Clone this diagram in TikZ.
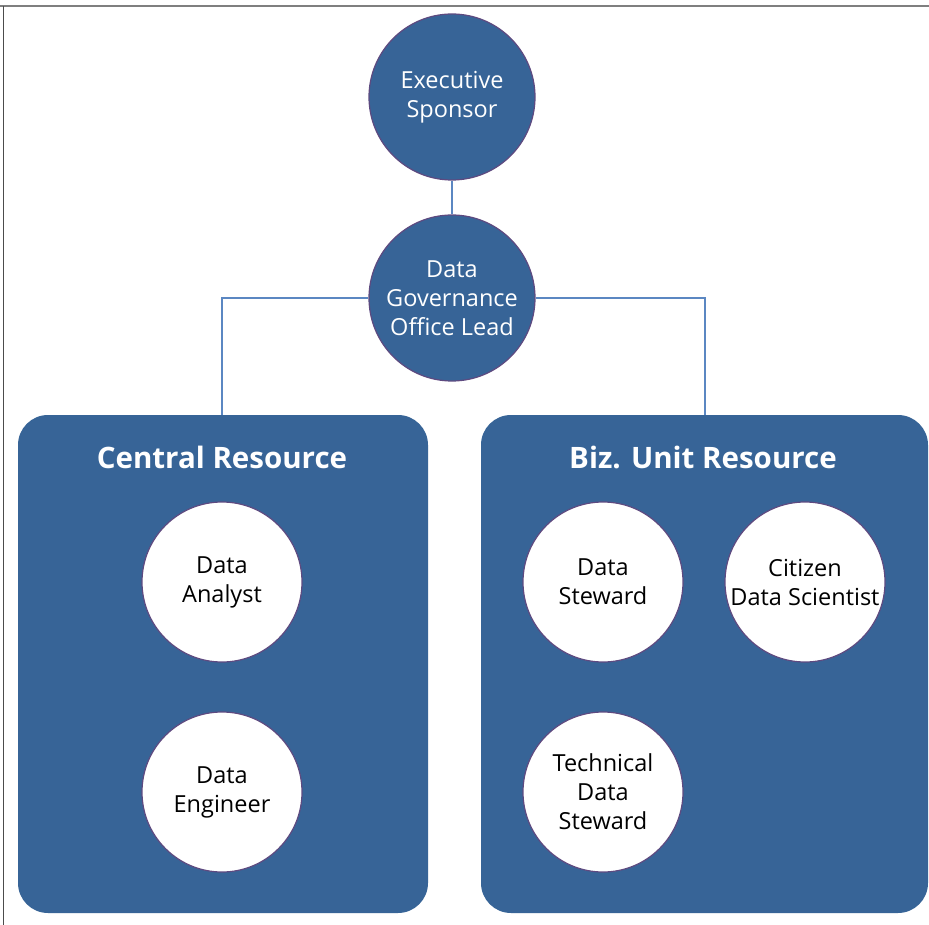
\documentclass[tikz,border=0pt]{standalone}
\usepackage{fontspec}
\setmainfont{Open Sans}
\definecolor{boxblue}{HTML}{376497}
\definecolor{rimpurple}{HTML}{5E4A80}
\definecolor{linkblue}{HTML}{5B87C2}
\definecolor{framegray}{HTML}{7F7F7F}
\begin{document}
\begin{tikzpicture}[x=1pt,y=-1pt,
  role/.style={circle,draw=rimpurple,line width=1.2pt,minimum size=166pt,inner sep=0pt,
    align=center,font=\fontsize{23.5}{29}\selectfont},
  lead/.style={role,fill=boxblue,text=white},
  member/.style={role,fill=white,text=black,minimum size=160pt},
  group/.style={fill=boxblue,rounded corners=30pt},
  grouptitle/.style={text=white,font=\fontsize{29.5}{34}\selectfont\bfseries},
  link/.style={draw=linkblue,line width=1.3pt}]
\useasboundingbox (0,0) rectangle (929,925);
\fill[white] (0,0) rectangle (929,925);
% page frame
\draw[framegray,line width=2pt] (0,6.5) -- (929,6.5);
\draw[black!70,line width=1pt] (3.5,6.5) -- (3.5,925);

% resource groups
\fill[group] (18,415) rectangle (428,913);
\fill[group] (481,415) rectangle (928,913);
\node[grouptitle] (central) at (222,457) {Central Resource};
\node[grouptitle] (biz) at (703,457) {Biz. Unit Resource};

% connector anchors on the group tops
\coordinate (ctop) at (222,415);
\coordinate (btop) at (705,415);

% leadership
\node[lead] (exec) at (452,97) {Executive\\Sponsor};
\node[lead] (dgo) at (452,298) {Data\\Governance\\Office Lead};

\draw[link] (exec) -- (dgo);
\draw[link] (dgo.west) -| (ctop);
\draw[link] (dgo.east) -| (btop);

% members
\node[member] (analyst) at (222,582) {Data\\Analyst};
\node[member] (engineer) at (222,792) {Data\\Engineer};
\node[member] (steward) at (603,582) {Data\\Steward};
\node[member] (citizen) at (805,582) {Citizen\\Data Scientist};
\node[member] (tech) at (603,792) {Technical\\Data\\Steward};
\end{tikzpicture}
\end{document}
